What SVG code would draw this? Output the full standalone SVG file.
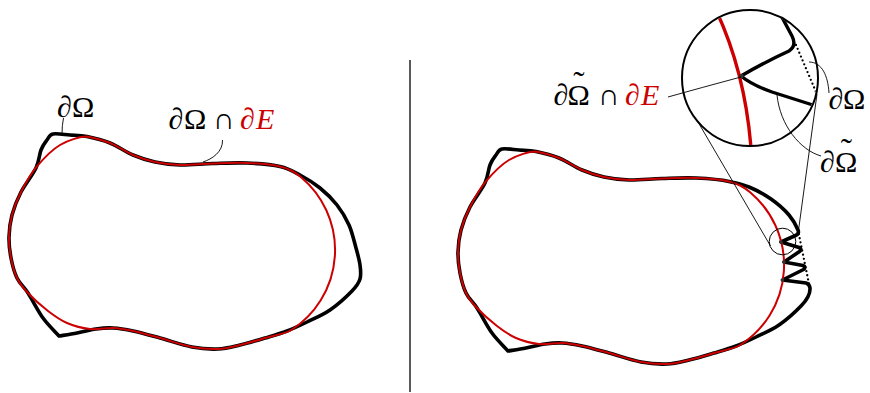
<svg xmlns="http://www.w3.org/2000/svg" width="870" height="393" viewBox="0 0 870 393">
<style>
.bd{fill:none;stroke:#000;stroke-width:3.6;stroke-linejoin:round;stroke-linecap:round}
.rd{fill:none;stroke:#cc0000;stroke-width:2;stroke-linejoin:round}
.thin{fill:none;stroke:#000;stroke-width:0.9}
.dot{fill:none;stroke:#000;stroke-width:2.3;stroke-linecap:round;stroke-dasharray:0 4.2}
text{font-family:"Liberation Serif",serif;font-size:30px;fill:#000}
.it{font-style:italic}
.red{fill:#cc0000}
.tl{font-size:34px}
</style>
<defs>
<clipPath id="zc"><circle cx="750" cy="78" r="67"/></clipPath>
</defs>
<line x1="410" y1="60" x2="410" y2="392" stroke="#000" stroke-width="1.3"/>
<g id="left">
<path class="bd" d="M 53,134 C 56.83,133.17 64.33,134.58 70,135 S 80.33,135.17 87,136.5 S 102.33,139.92 110,143 S 125.5,151.83 133,155 S 147.17,160.33 155,162 S 170.33,164.75 180,165 S 201.83,163.83 213,163.5 S 235.83,162.5 247,163 S 271.17,164.5 280,166.5 S 293.33,171.42 300,175 S 313.83,183 320,188 S 332.17,198.83 337,205 S 345.83,217.83 349,225 S 354.17,241.33 356,248 S 359.33,259.83 360,265 S 361.33,274.67 360,279 S 357,285.83 352,291 S 337.5,304.83 330,310 S 314.17,318.5 307,322 S 294,328.33 287,331 S 272.83,335.67 265,338 S 247.83,343.17 240,345 S 226,348.67 218,349 S 201.67,348.83 192,347 S 169.83,340.67 160,338 S 140.83,332.67 133,331 S 119.17,328.33 113,328 S 102,328.17 96,329 S 83.17,331.83 77,333 S 62.6,335.4 59,336 C 56,332.5 48.17,325.17 43,318 S 32.33,299.67 28,293 S 19.83,283.83 17,278 S 12.33,264.83 11,258 S 8.83,244.17 9,237 S 10,222.5 12,215 S 17,199.83 21,192 S 32.67,175 36,168 S 39.17,154.67 41,150 S 45,142.67 47,140 S 49.17,134.83 53,134 Z"/>
<path id="redE" class="rd" d="M 87,136.5 C 93.67,137.83 102.33,139.92 110,143 S 125.5,151.83 133,155 S 147.17,160.33 155,162 S 170.33,164.75 180,165 S 201.83,163.83 213,163.5 S 235.83,162.5 247,163 S 271.17,164.5 280,166.5 S 295.7,172.7 301.1,177.2 A 95 95 0 0 1 291.3,330 C 284.6,334.3 272.83,335.67 265,338 S 247.83,343.17 240,345 S 226,348.67 218,349 S 201.67,348.83 192,347 S 169.83,340.67 160,338 S 140.83,332.67 133,331 S 119.17,328.33 113,328 S 97.67,329.83 90,329 S 74,326 67,323 S 54.5,316 48,311 S 33.17,298.5 28,293 S 19.83,283.83 17,278 S 12.33,264.83 11,258 S 8.83,244.17 9,237 S 10,222.5 12,215 S 17,199.83 21,192 S 30.2,174.5 36.7,166.7 S 51.6,150 60,145 S 80.33,136.5 87,136.5 Z"/>
</g>
<g id="right" transform="translate(449,15)">
<path class="bd" d="M 53,134 C 56.83,133.17 64.33,134.58 70,135 S 80.33,135.17 87,136.5 S 102.33,139.92 110,143 S 125.5,151.83 133,155 S 147.17,160.33 155,162 S 170.33,164.75 180,165 S 201.83,163.83 213,163.5 S 235.83,162.5 247,163 S 271.17,164.5 280,166.5 S 293,169.08 300,172 S 315.33,179.33 322,184 S 335.5,194.67 340,200 C 344.5,205.33 347,210 349,215 Q 350.5,219 346.5,220.5 L 332,227 L 350,232.5 Q 353.5,234 350.5,236.5 L 335,247 L 354,250.5 Q 357.5,252 354.5,254.5 L 333.5,265 L 357,268 Q 360.5,269 361,273 C 361.5,280 357,285.83 352,291 S 337.5,304.83 330,310 S 314.17,318.5 307,322 S 294,328.33 287,331 S 272.83,335.67 265,338 S 247.83,343.17 240,345 S 226,348.67 218,349 S 201.67,348.83 192,347 S 169.83,340.67 160,338 S 140.83,332.67 133,331 S 119.17,328.33 113,328 S 102,328.17 96,329 S 83.17,331.83 77,333 S 62.6,335.4 59,336 C 56,332.5 48.17,325.17 43,318 S 32.33,299.67 28,293 S 19.83,283.83 17,278 S 12.33,264.83 11,258 S 8.83,244.17 9,237 S 10,222.5 12,215 S 17,199.83 21,192 S 32.67,175 36,168 S 39.17,154.67 41,150 S 45,142.67 47,140 S 49.17,134.83 53,134 Z"/>
<path class="dot" d="M 349,215 L 360,269"/>
<use href="#redE"/>
<circle cx="332" cy="227" r="1.8" fill="#333"/>
<circle cx="335" cy="247" r="1.8" fill="#333"/>
<circle cx="333.5" cy="265" r="1.8" fill="#333"/>
</g>
<g id="spy">
<line class="thin" x1="698" y1="122" x2="770.5" y2="246"/>
<line class="thin" x1="817" y1="94" x2="798" y2="234"/>
<circle cx="782.5" cy="241.5" r="13.3" fill="none" stroke="#000" stroke-width="1"/>
<circle cx="750" cy="78" r="68" fill="#fff" stroke="none"/>
<g clip-path="url(#zc)">
<path d="M 716,10 Q 745,72 751,148" fill="none" stroke="#cc0000" stroke-width="3.4"/>
<path class="dot" d="M 796,45 L 816,92" stroke-width="2.6"/>
<path d="M 777,8 L 792,36 Q 797,46 789,51 Q 765,62 741,76 Q 752,85 772,92 L 816,106" fill="none" stroke="#000" stroke-width="3.4" stroke-linejoin="round"/>
<circle cx="741.5" cy="76" r="2.2" fill="#333"/>
</g>
<circle cx="750" cy="78" r="68" fill="none" stroke="#000" stroke-width="2"/>
</g>
<g id="leaders">
<path class="thin" d="M 63.5,118 Q 62,125 62,134"/>
<path class="thin" d="M 222.5,140 C 223,152 212,159 203,162"/>
<path class="thin" d="M 741,77 Q 700,88 668,97"/>
<path class="thin" d="M 809,62 C 822,62 828,76 829,93"/>
<path class="thin" d="M 777,95 C 780,125 800,150 821,156"/>
</g>
<g id="labels">
<text y="116.5"><tspan x="57" class="it">∂</tspan><tspan x="72">Ω</tspan></text>
<text y="128.5"><tspan x="168.5" class="it">∂</tspan><tspan x="184">Ω</tspan><tspan x="213">∩</tspan><tspan x="240" class="it red">∂</tspan><tspan x="256" class="it red">E</tspan></text>
<text y="105"><tspan x="553.5" class="it">∂</tspan><tspan x="567.5">Ω</tspan><tspan x="598">∩</tspan><tspan x="625" class="it red">∂</tspan><tspan x="641" class="it red">E</tspan><tspan class="tl" x="579" y="95" text-anchor="middle">˜</tspan></text>
<text y="108.5"><tspan x="828.5" class="it">∂</tspan><tspan x="843">Ω</tspan></text>
<text y="171.5"><tspan x="820" class="it">∂</tspan><tspan x="835">Ω</tspan><tspan class="tl" x="846.5" y="162" text-anchor="middle">˜</tspan></text>
</g>
</svg>
